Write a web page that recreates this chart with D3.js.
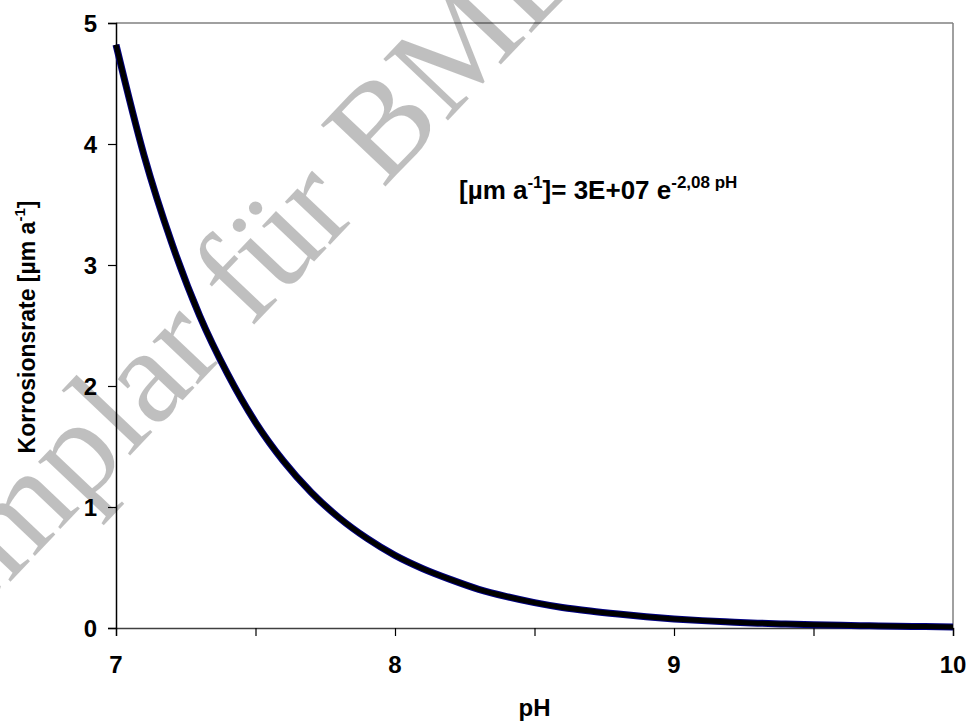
<!DOCTYPE html>
<html><head><meta charset="utf-8">
<script src="https://cdn.jsdelivr.net/npm/d3@7"></script>
<style>body{margin:0;background:#fff}text{font-family:"Liberation Sans",Arial,sans-serif;font-weight:bold}</style>
</head><body><svg id="c" width="969" height="724"></svg>
<script>
const pH = [7.0,7.1,7.2,7.3,7.4,7.5,7.6,7.7,7.8,7.9,8.0,8.1,8.2,8.3,8.4,8.5,8.6,8.7,8.8,8.9,9.0,9.1,9.2,9.3,9.4,9.5,9.6,9.7,9.8,9.9,10.0];
const rate = [4.82,3.91,3.18,2.58,2.10,1.70,1.38,1.12,0.91,0.74,0.60,0.49,0.40,0.32,0.26,0.21,0.17,0.14,0.115,0.093,0.075,0.061,0.050,0.040,0.033,0.027,0.022,0.018,0.014,0.012,0.009];
const xTicks = [7,8,9,10];
const xMinor = [7,7.5,8,8.5,9,9.5,10];
const yTicks = [0,1,2,3,4,5];

const svg = d3.select("#c");
const L=116,R=953,T=23,B=628;
const x = d3.scaleLinear().domain([7,10]).range([L,R]);
const y = d3.scaleLinear().domain([0,5]).range([B,T]);

// frame
svg.append("line").attr("x1",L).attr("x2",R).attr("y1",T).attr("y2",T).attr("stroke","#808080").attr("stroke-width",1.5);
svg.append("line").attr("x1",R).attr("x2",R).attr("y1",T).attr("y2",B).attr("stroke","#808080").attr("stroke-width",1.5);

// axes
const gx = svg.append("g").attr("transform",`translate(0,${B})`)
  .call(d3.axisBottom(x).tickValues(xMinor).tickSize(8).tickFormat(""));
gx.select(".domain").attr("stroke","#404040").attr("stroke-width",1.5);
gx.selectAll(".tick line").attr("stroke","#000").attr("stroke-width",1.2);
svg.append("g").selectAll("text").data(xTicks).join("text")
  .attr("x",d=>x(d)).attr("y",673).attr("text-anchor","middle").attr("font-size",24).text(d=>d);

const gy = svg.append("g").attr("transform",`translate(${L},0)`)
  .call(d3.axisLeft(y).tickValues(yTicks).tickSize(8).tickPadding(11).tickFormat(d=>d));
gy.select(".domain").attr("stroke","#000").attr("stroke-width",1.5);
gy.selectAll(".tick line").attr("stroke","#000").attr("stroke-width",1.2);
gy.selectAll(".tick text").attr("font-size",24).attr("font-family","Liberation Sans, Arial, sans-serif").attr("font-weight","bold").attr("dy","0.36em");

// curve
const line = d3.line().x((d,i)=>x(pH[i])).y(d=>y(d)).curve(d3.curveMonotoneX);
svg.append("path").datum(rate).attr("d",line).attr("fill","none").attr("stroke","#000080").attr("stroke-width",7).attr("stroke-linejoin","round");
svg.append("path").datum(rate).attr("d",line).attr("fill","none").attr("stroke","#000").attr("stroke-width",5).attr("stroke-linejoin","round");

// axis titles
svg.append("text").attr("x",x(8.5)).attr("y",716).attr("text-anchor","middle").attr("font-size",24).text("pH");
const yl = svg.append("text").attr("transform","translate(35,327) rotate(-90)").attr("text-anchor","middle").attr("font-size",23);
yl.append("tspan").text("Korrosionsrate [µm  a");
yl.append("tspan").attr("font-size",15).attr("dy",-10).text("-1");
yl.append("tspan").attr("dy",10).text("]");

// formula
const f = svg.append("text").attr("x",459).attr("y",199).attr("font-size",26);
f.append("tspan").text("[µm a");
f.append("tspan").attr("font-size",17).attr("dy",-11).text("-1");
f.append("tspan").attr("dy",11).text("]= 3E+07 e");
f.append("tspan").attr("font-size",17).attr("dy",-11).text("-2,08 pH");

// watermark
svg.append("text").attr("transform","translate(253,326) rotate(-46.5)").attr("text-anchor","middle")
  .attr("font-size",136).style("font-family","Liberation Serif, serif").style("font-weight","normal")
  .attr("fill","#000").attr("fill-opacity",0.25).text("Exemplar für BMBF");
</script></body></html>
